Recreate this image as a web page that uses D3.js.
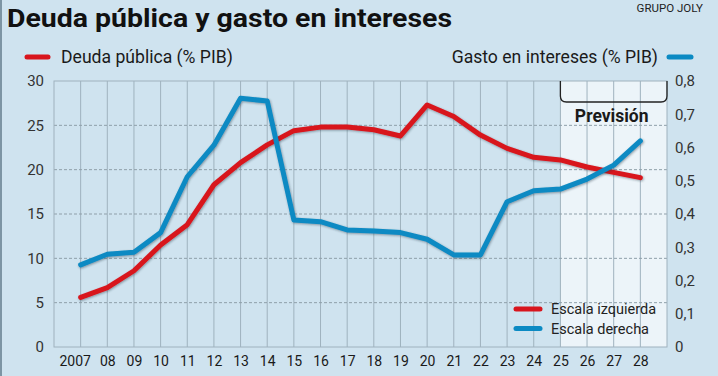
<!DOCTYPE html>
<html>
<head>
<meta charset="utf-8">
<script src="https://cdn.jsdelivr.net/npm/d3@7"></script>
<style>
  body { margin: 0; background: #cfe3ef; }
  text { font-family: Roboto, "Noto Sans", sans-serif; }
</style>
</head>
<body>
<div id="chart"></div>
<script>
// data
var years = [2007, 2008, 2009, 2010, 2011, 2012, 2013, 2014, 2015, 2016, 2017,
             2018, 2019, 2020, 2021, 2022, 2023, 2024, 2025, 2026, 2027, 2028];
var yearLabels = ["2007", "08", "09", "10", "11", "12", "13", "14", "15", "16", "17",
                  "18", "19", "20", "21", "22", "23", "24", "25", "26", "27", "28"];
var deuda = [5.6, 6.7, 8.6, 11.5, 13.8, 18.3, 20.8, 22.8, 24.4, 24.8, 24.8,
             24.5, 23.8, 27.3, 26.0, 23.9, 22.4, 21.4, 21.1, 20.3, 19.7, 19.1];
var intereses = [0.247, 0.279, 0.285, 0.344, 0.512, 0.607, 0.748, 0.74, 0.382, 0.377, 0.352,
                 0.349, 0.344, 0.324, 0.277, 0.277, 0.437, 0.47, 0.475, 0.505, 0.547, 0.62];
var leftTicks = [0, 5, 10, 15, 20, 25, 30];
var rightTicks = [0, 0.1, 0.2, 0.3, 0.4, 0.5, 0.6, 0.7, 0.8];
var previsionStart = 2025;

var W = 718, H = 376;
var margin = {top: 81, right: 51, bottom: 29, left: 54};
var width = W - margin.left - margin.right,
    height = H - margin.top - margin.bottom;

var red = "#d8151d", blue = "#0b8ac3";

var svg = d3.select("#chart")
  .append("svg")
  .attr("width", W)
  .attr("height", H);

// frame
svg.append("rect").attr("width", W).attr("height", H).attr("fill", "#cfe3ef");
svg.append("rect").attr("x", 0).attr("y", 0).attr("width", 2).attr("height", H).attr("fill", "#7d95a4");

var defs = svg.append("defs");
var f = defs.append("filter").attr("id", "shadow")
  .attr("x", "-5%").attr("y", "-5%").attr("width", "110%").attr("height", "110%");
f.append("feDropShadow").attr("dx", 0.8).attr("dy", 1).attr("stdDeviation", 1)
  .attr("flood-color", "#203040").attr("flood-opacity", 0.45);

// title
svg.append("text")
  .attr("x", 7).attr("y", 27)
  .attr("font-size", 26.5).attr("font-weight", "bold").attr("fill", "#111")
  .attr("textLength", 445).attr("lengthAdjust", "spacingAndGlyphs")
  .text("Deuda pública y gasto en intereses");

svg.append("text")
  .attr("x", 703).attr("y", 12)
  .attr("text-anchor", "end")
  .attr("font-size", 11.5).attr("fill", "#222")
  .text("GRUPO JOLY");

var g = svg.append("g")
  .attr("transform", "translate(" + margin.left + "," + margin.top + ")");

var x = d3.scaleLinear().domain([2006, 2029]).range([0, width]);
var yL = d3.scaleLinear().domain([0, 30]).range([height, 0]);
var yR = d3.scaleLinear().domain([0, 0.8]).range([height, 0]);

// prevision shading
g.append("rect")
  .attr("x", x(previsionStart)).attr("y", 0)
  .attr("width", width - x(previsionStart)).attr("height", height)
  .attr("fill", "#ecf4f9");

// grid: vertical
g.selectAll(".vgrid")
  .data(years)
  .enter().append("line")
  .attr("x1", function(d) { return x(d); })
  .attr("x2", function(d) { return x(d); })
  .attr("y1", 0).attr("y2", height)
  .attr("stroke", "#9fb2be").attr("stroke-width", 1);

// grid: horizontal dashed
g.selectAll(".hgrid")
  .data(leftTicks.slice(1, -1))
  .enter().append("line")
  .attr("x1", 0).attr("x2", width)
  .attr("y1", function(d) { return yL(d); })
  .attr("y2", function(d) { return yL(d); })
  .attr("stroke", "#8f9fa9").attr("stroke-width", 1)
  .attr("stroke-dasharray", "3,2");

// plot border
g.append("rect")
  .attr("x", 0).attr("y", 0).attr("width", width).attr("height", height)
  .attr("fill", "none").attr("stroke", "#9fb2be").attr("stroke-width", 1);

// axes
var axisL = g.append("g")
  .call(d3.axisLeft(yL).tickValues(leftTicks).tickSize(0).tickPadding(10));
var axisR = g.append("g")
  .attr("transform", "translate(" + width + ",0)")
  .call(d3.axisRight(yR).tickValues(rightTicks).tickSize(0).tickPadding(8)
    .tickFormat(function(d) { return d === 0 ? "0" : d3.format(".1f")(d).replace(".", ","); }));
var axisB = g.append("g")
  .attr("transform", "translate(0," + height + ")")
  .call(d3.axisBottom(x).tickValues(years).tickSize(0).tickPadding(9)
    .tickFormat(function(d, i) { return yearLabels[i]; }));

[axisL, axisR, axisB].forEach(function(a) {
  a.select(".domain").remove();
  a.selectAll("text").attr("font-family", "Roboto, sans-serif");
});
axisL.selectAll("text").attr("font-size", 15).attr("fill", "#333");
axisR.selectAll("text").attr("font-size", 15).attr("fill", "#333");
axisB.selectAll("text").attr("font-size", 14).attr("fill", "#1a1a1a")
  .attr("dx", function(d, i) { return i === 0 ? -6 : 0; });

// prevision bracket
var bx0 = x(previsionStart), bx1 = width, by = 21, r = 6;
g.append("path")
  .attr("d", "M" + bx0 + ",0 V" + (by - r) + " Q" + bx0 + "," + by + " " + (bx0 + r) + "," + by +
             " H" + (bx1 - r) + " Q" + bx1 + "," + by + " " + bx1 + "," + (by - r) + " V0")
  .attr("fill", "none").attr("stroke", "#222").attr("stroke-width", 1.3);
g.append("text")
  .attr("x", (bx0 + bx1) / 2 - 2).attr("y", 41)
  .attr("text-anchor", "middle")
  .attr("font-size", 17.5).attr("font-weight", "bold").attr("fill", "#1a1a1a")
  .text("Previsión");

// lines
var lineL = d3.line()
  .x(function(d, i) { return x(years[i]); })
  .y(function(d) { return yL(d); });
var lineR = d3.line()
  .x(function(d, i) { return x(years[i]); })
  .y(function(d) { return yR(d); });

g.append("path")
  .datum(deuda)
  .attr("d", lineL)
  .attr("fill", "none").attr("stroke", red).attr("stroke-width", 5)
  .attr("stroke-linejoin", "round").attr("stroke-linecap", "round")
  .attr("filter", "url(#shadow)");

g.append("path")
  .datum(intereses)
  .attr("d", lineR)
  .attr("fill", "none").attr("stroke", blue).attr("stroke-width", 5)
  .attr("stroke-linejoin", "round").attr("stroke-linecap", "round")
  .attr("filter", "url(#shadow)");

// top legends
svg.append("line").attr("x1", 27).attr("x2", 48).attr("y1", 57).attr("y2", 57)
  .attr("stroke", red).attr("stroke-width", 5).attr("stroke-linecap", "round");
svg.append("text").attr("x", 61).attr("y", 63)
  .attr("font-size", 17.6).attr("fill", "#1a1a1a")
  .text("Deuda pública (% PIB)");

svg.append("line").attr("x1", 669).attr("x2", 691).attr("y1", 57).attr("y2", 57)
  .attr("stroke", blue).attr("stroke-width", 5).attr("stroke-linecap", "round");
svg.append("text").attr("x", 658).attr("y", 63)
  .attr("text-anchor", "end")
  .attr("font-size", 17.6).attr("fill", "#1a1a1a")
  .text("Gasto en intereses (% PIB)");

// bottom-right legend
var leg = [{label: "Escala izquierda", color: red}, {label: "Escala derecha", color: blue}];
var lg = svg.append("g").attr("transform", "translate(516,309)");
lg.selectAll("line").data(leg).enter().append("line")
  .attr("x1", 0).attr("x2", 24)
  .attr("y1", function(d, i) { return i * 19.5; })
  .attr("y2", function(d, i) { return i * 19.5; })
  .attr("stroke", function(d) { return d.color; })
  .attr("stroke-width", 5).attr("stroke-linecap", "round");
lg.selectAll("text").data(leg).enter().append("text")
  .attr("x", 35)
  .attr("y", function(d, i) { return i * 19.5 + 5; })
  .attr("font-size", 14.5).attr("fill", "#222")
  .text(function(d) { return d.label; });
</script>
</body>
</html>
